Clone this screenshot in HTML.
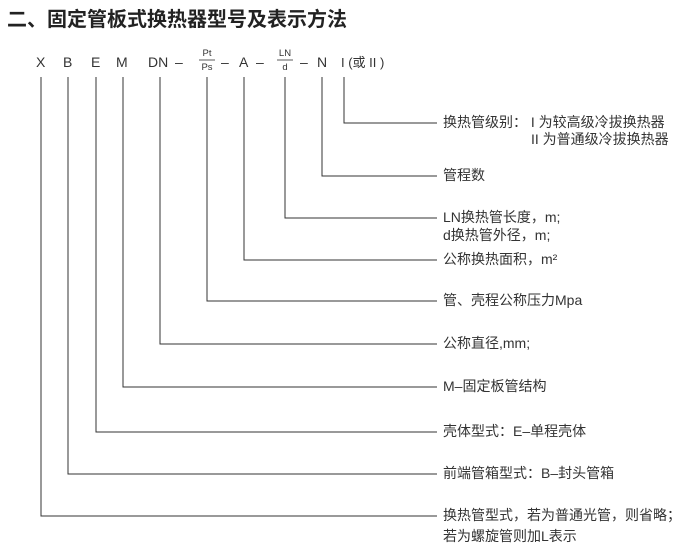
<!DOCTYPE html>
<html><head><meta charset="utf-8"><style>
html,body{margin:0;padding:0;background:#fff;}
svg{display:block;font-family:"Liberation Sans","Noto Sans CJK SC",sans-serif;}
</style></head><body>
<svg width="683" height="554" viewBox="0 0 683 554">
<text x="7" y="26" font-size="20" font-weight="bold" fill="#222">二、固定管板式换热器型号及表示方法</text>
<g font-size="14" fill="#333">
<text x="36" y="67">X</text><text x="63" y="67">B</text><text x="91" y="67">E</text><text x="116" y="67">M</text>
<text x="148" y="67">DN</text><text x="175" y="67">–</text>
<text x="207" y="56" font-size="9.5" text-anchor="middle">Pt</text>
<line x1="199" y1="60" x2="215" y2="60" stroke="#333" stroke-width="0.8"/>
<text x="207" y="70" font-size="9.5" text-anchor="middle">Ps</text>
<text x="221" y="67">–</text><text x="239" y="67">A</text><text x="256" y="67">–</text>
<text x="285" y="56" font-size="9.5" text-anchor="middle">LN</text>
<line x1="277" y1="60" x2="293" y2="60" stroke="#333" stroke-width="0.8"/>
<text x="285" y="70" font-size="9.5" text-anchor="middle">d</text>
<text x="300" y="67">–</text><text x="317" y="67">N</text>
<text x="341" y="67" font-size="13">I (或 II )</text>
</g>
<g stroke="#333" stroke-width="1" fill="none">
<polyline points="344,77 344,123 437,123"/>
<polyline points="322,77 322,176 437,176"/>
<polyline points="285,77 285,218 437,218"/>
<polyline points="244,77 244,260 437,260"/>
<polyline points="207,77 207,301 437,301"/>
<polyline points="160,77 160,344 437,344"/>
<polyline points="123,77 123,387 437,387"/>
<polyline points="96,77 96,432 437,432"/>
<polyline points="68,77 68,474 437,474"/>
<polyline points="41,77 41,516 437,516"/>
</g>
<g font-size="14" fill="#333">
<text x="443" y="127">换热管级别：  I 为较高级冷拔换热器</text>
<text x="531" y="144">II 为普通级冷拔换热器</text>
<text x="443" y="180">管程数</text>
<text x="443" y="222">LN换热管长度，m;</text>
<text x="443" y="240">d换热管外径，m;</text>
<text x="443" y="264">公称换热面积，m²</text>
<text x="443" y="305">管、壳程公称压力Mpa</text>
<text x="443" y="348">公称直径,mm;</text>
<text x="443" y="391">M–固定板管结构</text>
<text x="443" y="436">壳体型式：E–单程壳体</text>
<text x="443" y="478">前端管箱型式：B–封头管箱</text>
<text x="443" y="520">换热管型式，若为普通光管，则省略；</text>
<text x="443" y="541">若为螺旋管则加L表示</text>
</g>
</svg>
</body></html>
